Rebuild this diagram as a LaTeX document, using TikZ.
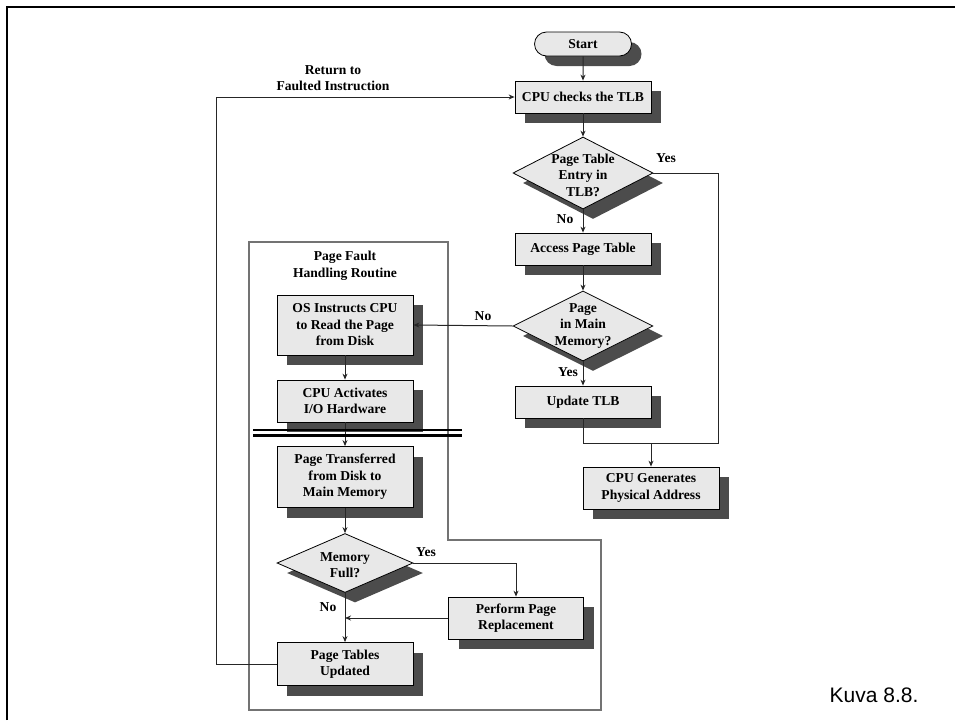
\documentclass[tikz,border=0pt]{standalone}
\usepackage{fontspec}
\setmainfont{Liberation Serif}
\newfontfamily\kuvafont{Liberation Sans}
\usetikzlibrary{arrows.meta, positioning, shapes.geometric, shapes.misc, shadows}

\begin{document}
\begin{tikzpicture}[
    x=1pt, y=-1pt,
    >={Stealth[length=6pt,width=5pt]},
    font=\fontsize{13.6}{16.5}\selectfont\bfseries,
    shade/.style = {drop shadow={shadow xshift=10pt, shadow yshift=-10pt, fill=black!70, opacity=1}},
    box/.style      = {draw, line width=0.8pt, fill=black!9, shade, align=center, minimum width=136pt, minimum height=32pt, inner sep=2pt},
    terminal/.style = {draw, line width=0.8pt, fill=black!9, shade, rounded rectangle, minimum width=101pt, minimum height=24pt, inner sep=2pt},
    decision/.style = {draw, line width=0.8pt, fill=black!9, shade, diamond, minimum width=140pt, minimum height=72pt, inner sep=0pt},
    dtext/.style    = {align=center, inner sep=0pt},
    line/.style     = {draw=black!85, line width=1pt},
    routine/.style  = {draw=black!55, line width=1.3pt}
]
    \useasboundingbox (0,0) rectangle (955,720);
    \draw[line width=2.5pt] (7,720) -- (7,7) -- (955,7);

    % page fault handling routine
    \draw[routine] (249,242) -- (448,242) -- (448,540) -- (601,540) -- (601,710) -- (249,710) -- cycle;
    \node[dtext] (routinelbl) at (345,266) {Page Fault\\Handling Routine};

    \node[terminal] (start) at (583,44) {Start};
    \node[box] (checks) at (583,97) {CPU checks the TLB};
    \node[decision] (tlbq) at (583,173) {};
    \node[dtext] (tlbqtxt) at (583,175) {Page Table\\Entry in\\TLB?};
    \node[box] (access) at (583,249) {Access Page Table};
    \node[decision, minimum height=70pt] (memq) at (583,326) {};
    \node[dtext] (memqtxt) at (583,326) {Page\\in Main\\Memory?};
    \node[box] (upd) at (583,402) {Update TLB};
    \node[box, minimum height=42pt] (phys) at (651,488) {CPU Generates\\Physical Address};

    \node[box, minimum height=60pt] (osread) at (345,325) {OS Instructs CPU\\to Read the Page\\from Disk};
    \node[box, minimum height=42pt] (io) at (345,401) {CPU Activates\\I/O Hardware};
    \node[box, minimum height=61pt] (xfer) at (345,477) {Page Transferred\\from Disk to\\Main Memory};
    \node[decision, minimum width=136pt, minimum height=59pt] (fullq) at (345,563) {};
    \node[dtext] (fullqtxt) at (345,565) {Memory\\Full?};
    \node[box, minimum width=135pt, minimum height=42pt] (repl) at (516,618) {Perform Page\\Replacement};
    \node[box, minimum height=43pt] (updated) at (345,664) {Page Tables\\Updated};

    \coordinate (hit) at (718,443);
    \coordinate (retx) at (216,0);

    \draw[line,->] (start) -- (checks);
    \draw[line,->] (checks) -- (tlbq);
    \draw[line,->] (tlbq) -- (access);
    \draw[line,->] (access) -- (memq);
    \draw[line,->] (memq) -- (upd);
    \draw[line] (tlbq.east) -| (hit) -- (upd.south |- hit) -- (upd.south);
    \draw[line,->] (phys.north |- hit) -- (phys.north);
    \draw[line,->] (memq.west) -- (osread.east);

    \draw[line,->] (osread) -- (io);
    \draw[line,->] (io) -- (xfer);
    \draw[line,->] (xfer) -- (fullq);
    \draw[line,->] (fullq) -- (updated);
    \draw[line,->] (fullq.east) -| (repl.north);
    \draw[line,->] (repl.west) -- (repl.west -| fullq.south);
    \draw[line,->] (updated.west) -- (updated.west -| retx) -- (checks.west -| retx) -- (checks.west);

    % disk wait
    \draw[line width=2.2pt] (253,430) -- (462,430);
    \draw[line width=2.2pt] (253,435.5) -- (462,435.5);

    \node (tlbyes) at (666,158) {Yes};
    \node (tlbno) at (565,219) {No};
    \node (memno) at (483,316) {No};
    \node (memyes) at (568,372) {Yes};
    \node (fullyes) at (426,552) {Yes};
    \node (fullno) at (328,607) {No};
    \node[dtext] (retlbl) at (333,78) {Return to\\Faulted Instruction};

    \node[font=\kuvafont\fontsize{21}{25}\selectfont, anchor=base] (kuva) at (874,702) {Kuva 8.8.};
\end{tikzpicture}
\end{document}
